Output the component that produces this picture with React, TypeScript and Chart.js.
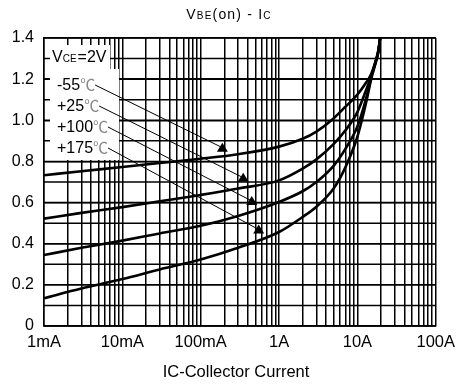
import React, { useEffect, useRef } from 'react';
import { Chart, registerables } from 'chart.js';

Chart.register(...registerables);

// ---- data ----
const seriesNames = ['-55℃', '+25℃', '+100℃', '+175℃'];

const curM55I = [0.001, 0.003, 0.01, 0.03, 0.1, 0.3, 1, 2, 3, 5, 7, 10, 13, 15, 17, 18.5, 19.5];
const curM55V = [0.733, 0.752, 0.773, 0.792, 0.813, 0.835, 0.872, 0.91, 0.945, 1.01, 1.065, 1.125, 1.185, 1.225, 1.285, 1.34, 1.4];

const cur25I = [0.001, 0.003, 0.01, 0.03, 0.1, 0.3, 1, 2, 3, 5, 7, 10, 13, 15, 17, 18.5, 19.5];
const cur25V = [0.522, 0.55, 0.578, 0.606, 0.637, 0.668, 0.708, 0.765, 0.81, 0.885, 0.95, 1.04, 1.15, 1.215, 1.28, 1.335, 1.4];

const cur100I = [0.001, 0.003, 0.01, 0.03, 0.1, 0.3, 1, 2, 3, 5, 7, 10, 13, 15, 17, 18.5, 19.5];
const cur100V = [0.345, 0.38, 0.415, 0.45, 0.487, 0.535, 0.603, 0.655, 0.7, 0.78, 0.86, 0.97, 1.11, 1.21, 1.28, 1.335, 1.4];

const cur175I = [0.001, 0.003, 0.01, 0.03, 0.1, 0.3, 1, 2, 3, 5, 7, 10, 13, 15, 17, 18.5, 19.5];
const cur175V = [0.135, 0.182, 0.228, 0.275, 0.323, 0.38, 0.457, 0.53, 0.58, 0.67, 0.77, 0.92, 1.09, 1.2, 1.275, 1.33, 1.4];

// arrow tips (data coords) for the temperature labels
const arrowTipI = [0.189, 0.349, 0.448, 0.55];
const arrowTipV = [0.867, 0.721, 0.608, 0.469];

// axis ticks
const xDecades = [0.001, 0.01, 0.1, 1, 10, 100];
const xDecadeLabels = ['1mA', '10mA', '100mA', '1A', '10A', '100A'];
const yGridValues = [0, 0.1, 0.2, 0.3, 0.4, 0.5, 0.6, 0.7, 0.8, 0.9, 1.0, 1.1, 1.2, 1.3, 1.4];
const yTickValues = [0, 0.2, 0.4, 0.6, 0.8, 1.0, 1.2, 1.4];
const yTickLabels = ['0', '0.2', '0.4', '0.6', '0.8', '1.0', '1.2', '1.4'];

const FONT = '"Liberation Sans", Arial, sans-serif';

function buildXGrid(): number[] {
  const vals: number[] = [];
  for (let d = 0; d < xDecades.length - 1; d++) {
    for (let m = 1; m <= 9; m++) vals.push(xDecades[d] * m);
  }
  vals.push(xDecades[xDecades.length - 1]);
  return vals;
}

function pts(xs: number[], ys: number[]) {
  return xs.map((x, i) => ({ x, y: ys[i] }));
}

const overlay = {
  id: 'overlay',
  beforeDatasetsDraw(chart: any) {
    const ctx = chart.ctx;
    const a = chart.chartArea;
    const ys = chart.scales.y;
    ctx.save();
    // minor horizontal grid lines at every 0.1 V (through the y scale)
    ctx.strokeStyle = '#000';
    ctx.lineWidth = 1.5;
    yGridValues.forEach((v) => {
      const py = ys.getPixelForValue(v);
      ctx.beginPath();
      ctx.moveTo(a.left, py);
      ctx.lineTo(a.right, py);
      ctx.stroke();
    });
    ctx.fillStyle = '#fff';
    // legend boxes
    ctx.fillRect(a.left + 6, a.top + 7, 60, 24);
    ctx.fillRect(a.left + 6, a.top + 31, 69, 91);
    ctx.restore();
  },
  afterDraw(chart: any) {
    const ctx = chart.ctx;
    const a = chart.chartArea;
    const xs = chart.scales.x;
    const ys = chart.scales.y;
    ctx.save();
    ctx.fillStyle = '#000';
    ctx.textBaseline = 'alphabetic';

    // title
    const segs = [
      { t: 'V', s: 14 },
      { t: 'BE', s: 10 },
      { t: '(on) - I', s: 14 },
      { t: 'C', s: 10 },
    ];
    try { (ctx as any).letterSpacing = '1.2px'; } catch (e) {}
    let tw = 0;
    segs.forEach((sg) => {
      ctx.font = `${sg.s}px ${FONT}`;
      tw += ctx.measureText(sg.t).width;
    });
    let tx = 229 - tw / 2;
    segs.forEach((sg) => {
      ctx.font = `${sg.s}px ${FONT}`;
      ctx.fillText(sg.t, tx, 19);
      tx += ctx.measureText(sg.t).width;
    });
    try { (ctx as any).letterSpacing = '0px'; } catch (e) {}

    // x axis title
    ctx.font = `16.5px ${FONT}`;
    ctx.textAlign = 'center';
    ctx.fillText('IC-Collector Current', 236, 377);
    ctx.textAlign = 'left';

    // VCE=2V
    let lx = a.left + 8;
    const ly = a.top + 24;
    ctx.font = `16px ${FONT}`;
    ctx.fillText('V', lx, ly);
    lx += ctx.measureText('V').width;
    ctx.font = `10px ${FONT}`;
    ctx.fillText('CE', lx, ly);
    lx += ctx.measureText('CE').width + 1;
    ctx.font = `16px ${FONT}`;
    ctx.fillText('=2V', lx, ly);

    // temperature labels + arrows
    seriesNames.forEach((name, i) => {
      const num = name.replace('℃', '');
      const bx = a.left + 13;
      const by = a.top + 52 + i * 21;
      ctx.font = `16px ${FONT}`;
      ctx.fillStyle = '#000';
      ctx.fillText(num, bx, by);
      const w1 = ctx.measureText(num).width;
      ctx.font = `15px "Noto Sans CJK SC", "DejaVu Sans", sans-serif`;
      ctx.fillStyle = '#888';
      ctx.fillText('℃', bx + w1, by);
      const w2 = ctx.measureText('℃').width;
      const sx = bx + w1 + w2;
      const sy = by - 5;
      const ex = xs.getPixelForValue(arrowTipI[i]);
      const ey = ys.getPixelForValue(arrowTipV[i]);
      ctx.strokeStyle = '#000';
      ctx.lineWidth = 1;
      ctx.beginPath();
      ctx.moveTo(sx, sy);
      ctx.lineTo(ex, ey);
      ctx.stroke();
      ctx.fillStyle = '#000';
      ctx.beginPath();
      ctx.moveTo(ex, ey - 5);
      ctx.lineTo(ex - 5.5, ey + 4);
      ctx.lineTo(ex + 5.5, ey + 4);
      ctx.closePath();
      ctx.fill();
    });
    ctx.restore();
  },
};

export default function App() {
  const ref = useRef<HTMLCanvasElement | null>(null);
  useEffect(() => {
    document.body.style.margin = '0';
    const canvas = ref.current!;
    const xGrid = buildXGrid();
    const lineStyle = {
      borderColor: '#000',
      borderWidth: 2.6,
      pointRadius: 0,
      fill: false,
      cubicInterpolationMode: 'monotone' as const,
    };
    const chart = new Chart(canvas, {
      type: 'line',
      data: {
        datasets: [
          { label: seriesNames[0], data: pts(curM55I, curM55V), ...lineStyle },
          { label: seriesNames[1], data: pts(cur25I, cur25V), ...lineStyle },
          { label: seriesNames[2], data: pts(cur100I, cur100V), ...lineStyle },
          { label: seriesNames[3], data: pts(cur175I, cur175V), ...lineStyle },
        ],
      },
      options: {
        responsive: false,
        animation: false,
        devicePixelRatio: 1,
        layout: { padding: { top: 38, right: 23, left: 0, bottom: 0 } },
        plugins: {
          legend: { display: false },
          title: { display: false },
          tooltip: { enabled: false },
        },
        scales: {
          x: {
            type: 'logarithmic',
            min: xDecades[0],
            max: xDecades[xDecades.length - 1],
            afterBuildTicks: (scale: any) => {
              scale.ticks = xGrid.map((v) => ({ value: v }));
            },
            afterFit: (scale: any) => {
              scale.height = 59;
            },
            grid: { color: '#000', lineWidth: 1.5, drawTicks: false },
            border: { color: '#000', width: 1.5 },
            ticks: {
              autoSkip: false,
              maxRotation: 0,
              padding: 7,
              color: '#000',
              font: { family: FONT, size: 16.5 },
              callback: (v: any) => {
                const idx = xDecades.findIndex((d) => Math.abs(d - Number(v)) / d < 1e-6);
                return idx >= 0 ? xDecadeLabels[idx] : '';
              },
            },
          },
          y: {
            type: 'linear',
            min: yGridValues[0],
            max: yGridValues[yGridValues.length - 1],
            afterBuildTicks: (scale: any) => {
              scale.ticks = yTickValues.map((v) => ({ value: v }));
            },
            afterFit: (scale: any) => {
              scale.width = 44;
            },
            grid: { color: '#000', lineWidth: 1.5, drawTicks: false },
            border: { color: '#000', width: 1.5 },
            ticks: {
              autoSkip: false,
              padding: 10,
              color: '#000',
              font: { family: FONT, size: 16 },
              callback: (v: any) => {
                const idx = yTickValues.findIndex((t) => Math.abs(t - Number(v)) < 1e-6);
                return idx >= 0 ? yTickLabels[idx] : '';
              },
            },
          },
        },
      },
      plugins: [overlay],
    });
    return () => chart.destroy();
  }, []);
  return (
    <div style={{ position: 'absolute', left: 0, top: 0, width: 462, height: 385, background: '#fff' }}>
      <canvas ref={ref} width={462} height={385} />
    </div>
  );
}
